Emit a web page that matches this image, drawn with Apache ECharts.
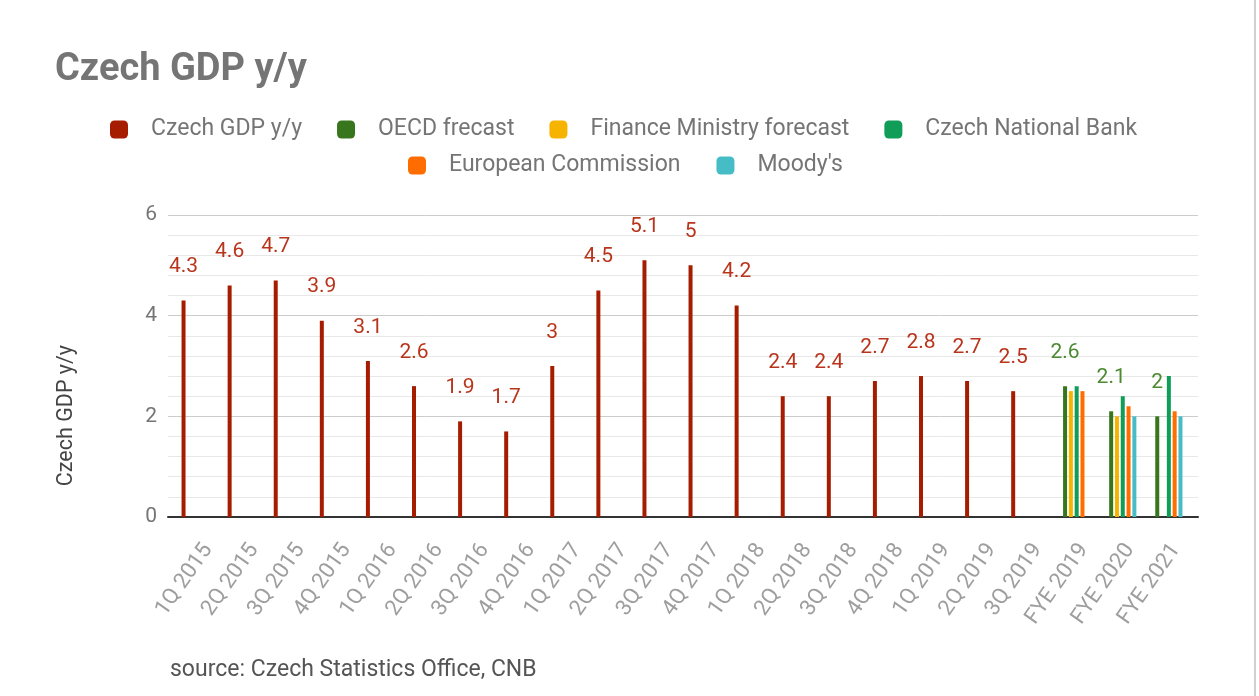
<!DOCTYPE html>
<html>
<head>
<meta charset="utf-8">
<script src="https://cdn.jsdelivr.net/npm/echarts@6/dist/echarts.min.js"></script>
<style>
html,body{margin:0;padding:0;background:#fff;}
#chart{width:1259px;height:696px;}
</style>
</head>
<body>
<div id="chart"></div>
<script>
const categories = ['1Q 2015','2Q 2015','3Q 2015','4Q 2015','1Q 2016','2Q 2016','3Q 2016','4Q 2016','1Q 2017','2Q 2017','3Q 2017','4Q 2017','1Q 2018','2Q 2018','3Q 2018','4Q 2018','1Q 2019','2Q 2019','3Q 2019','FYE 2019','FYE 2020','FYE 2021'];
const gdp     = [4.3,4.6,4.7,3.9,3.1,2.6,1.9,1.7,3,4.5,5.1,5,4.2,2.4,2.4,2.7,2.8,2.7,2.5,null,null,null];
const oecd    = [null,null,null,null,null,null,null,null,null,null,null,null,null,null,null,null,null,null,null,2.6,2.1,2];
const finance = [null,null,null,null,null,null,null,null,null,null,null,null,null,null,null,null,null,null,null,2.5,2.0,null];
const cnb     = [null,null,null,null,null,null,null,null,null,null,null,null,null,null,null,null,null,null,null,2.6,2.4,2.8];
const ec      = [null,null,null,null,null,null,null,null,null,null,null,null,null,null,null,null,null,null,null,2.5,2.2,2.1];
const moodys  = [null,null,null,null,null,null,null,null,null,null,null,null,null,null,null,null,null,null,null,null,2.0,2.0];
const yTicks  = [0,2,4,6];

const seriesNames = ['Czech GDP y/y','OECD frecast','Finance Ministry forecast','Czech National Bank','European Commission',"Moody's"];
const colors = ['#a61c00','#38761d','#f6b400','#0f9d58','#ff6d01','#46bdc6'];
const labelColors = ['#b8351c','#4c8a32'];
const FONT = 'Roboto, "Noto Sans", sans-serif';

const chart = echarts.init(document.getElementById('chart'), null, {renderer:'canvas'});

function mkSeries(i, data, withLabel){
  return {
    name: seriesNames[i], type:'bar', data: data,
    xAxisIndex:1, yAxisIndex:1,
    barWidth:4, barGap:'45%',
    itemStyle:{color:colors[i]},
    label: withLabel ? {show:true, position:'top', distance:23, color:labelColors[i], fontSize:21, fontFamily:FONT,
      formatter: p => (p.value==null?'':String(p.value))} : {show:false}
  };
}

const legendText = {fontFamily:FONT, fontSize:23, color:'#757575', padding:[0,0,0,18]};

const option = {
  backgroundColor:'#ffffff',
  animation:false,
  color: colors,
  title:{text:'Czech GDP y/y', left:50, top:46, textStyle:{fontFamily:FONT, fontWeight:'bold', fontSize:38, color:'#757575'}},
  legend:[
    {data:seriesNames.slice(0,4), top:113, left:105, itemWidth:18, itemHeight:18, itemGap:35, icon:'roundRect', textStyle:legendText},
    {data:seriesNames.slice(4), top:149, left:403, itemWidth:18, itemHeight:18, itemGap:36, icon:'roundRect', textStyle:legendText}
  ],
  grid:[
    {left:168, right:61, top:215, bottom:179},
    {left:175, right:70, top:215, bottom:179},
    {left:185, right:60, top:215, bottom:179}
  ],
  xAxis:[
    {type:'category', gridIndex:0, data:categories, axisLine:{show:true, lineStyle:{color:'#333333', width:2}}, axisTick:{show:false}, axisLabel:{show:false}, splitLine:{show:false}},
    {type:'category', gridIndex:1, data:categories, axisLine:{show:false}, axisTick:{show:false}, splitLine:{show:false}, axisLabel:{show:false}},
    {type:'category', gridIndex:2, data:categories, axisLine:{show:false}, axisTick:{show:false}, splitLine:{show:false},
     axisLabel:{show:true, interval:0, rotate:55, margin:29, fontFamily:FONT, fontSize:22, color:'#9e9e9e'}}
  ],
  yAxis:[
    {type:'value', gridIndex:0, min:yTicks[0], max:yTicks[yTicks.length-1], interval:2,
     axisLine:{show:false}, axisTick:{show:false},
     axisLabel:{show:true, margin:11, fontFamily:FONT, fontSize:21, color:'#757575'},
     splitLine:{show:true, lineStyle:{color:'#cccccc', width:1}},
     minorTick:{show:false, splitNumber:5},
     minorSplitLine:{show:true, lineStyle:{color:'#e8e8e8', width:1}}},
    {type:'value', gridIndex:1, min:yTicks[0], max:yTicks[yTicks.length-1], interval:2, show:false, splitLine:{show:false}},
    {type:'value', gridIndex:2, min:yTicks[0], max:yTicks[yTicks.length-1], interval:2, show:false, splitLine:{show:false}}
  ],
  series:[
    mkSeries(0, gdp, true),
    mkSeries(1, oecd, true),
    mkSeries(2, finance, false),
    mkSeries(3, cnb, false),
    mkSeries(4, ec, false),
    mkSeries(5, moodys, false)
  ],
  graphic:[
    {type:'text', left:56, top:345, rotation:Math.PI/2, style:{text:'Czech GDP y/y', fontFamily:FONT, fontSize:21.5, fill:'#444444'}},
    {type:'text', left:170, top:659, style:{text:'source: Czech Statistics Office, CNB', fontFamily:FONT, fontSize:23, fill:'#555555'}},
    {type:'rect', shape:{x:1254, y:0, width:2, height:696}, style:{fill:'#d0d0d0'}}
  ]
};
chart.setOption(option);
</script>
</body>
</html>
